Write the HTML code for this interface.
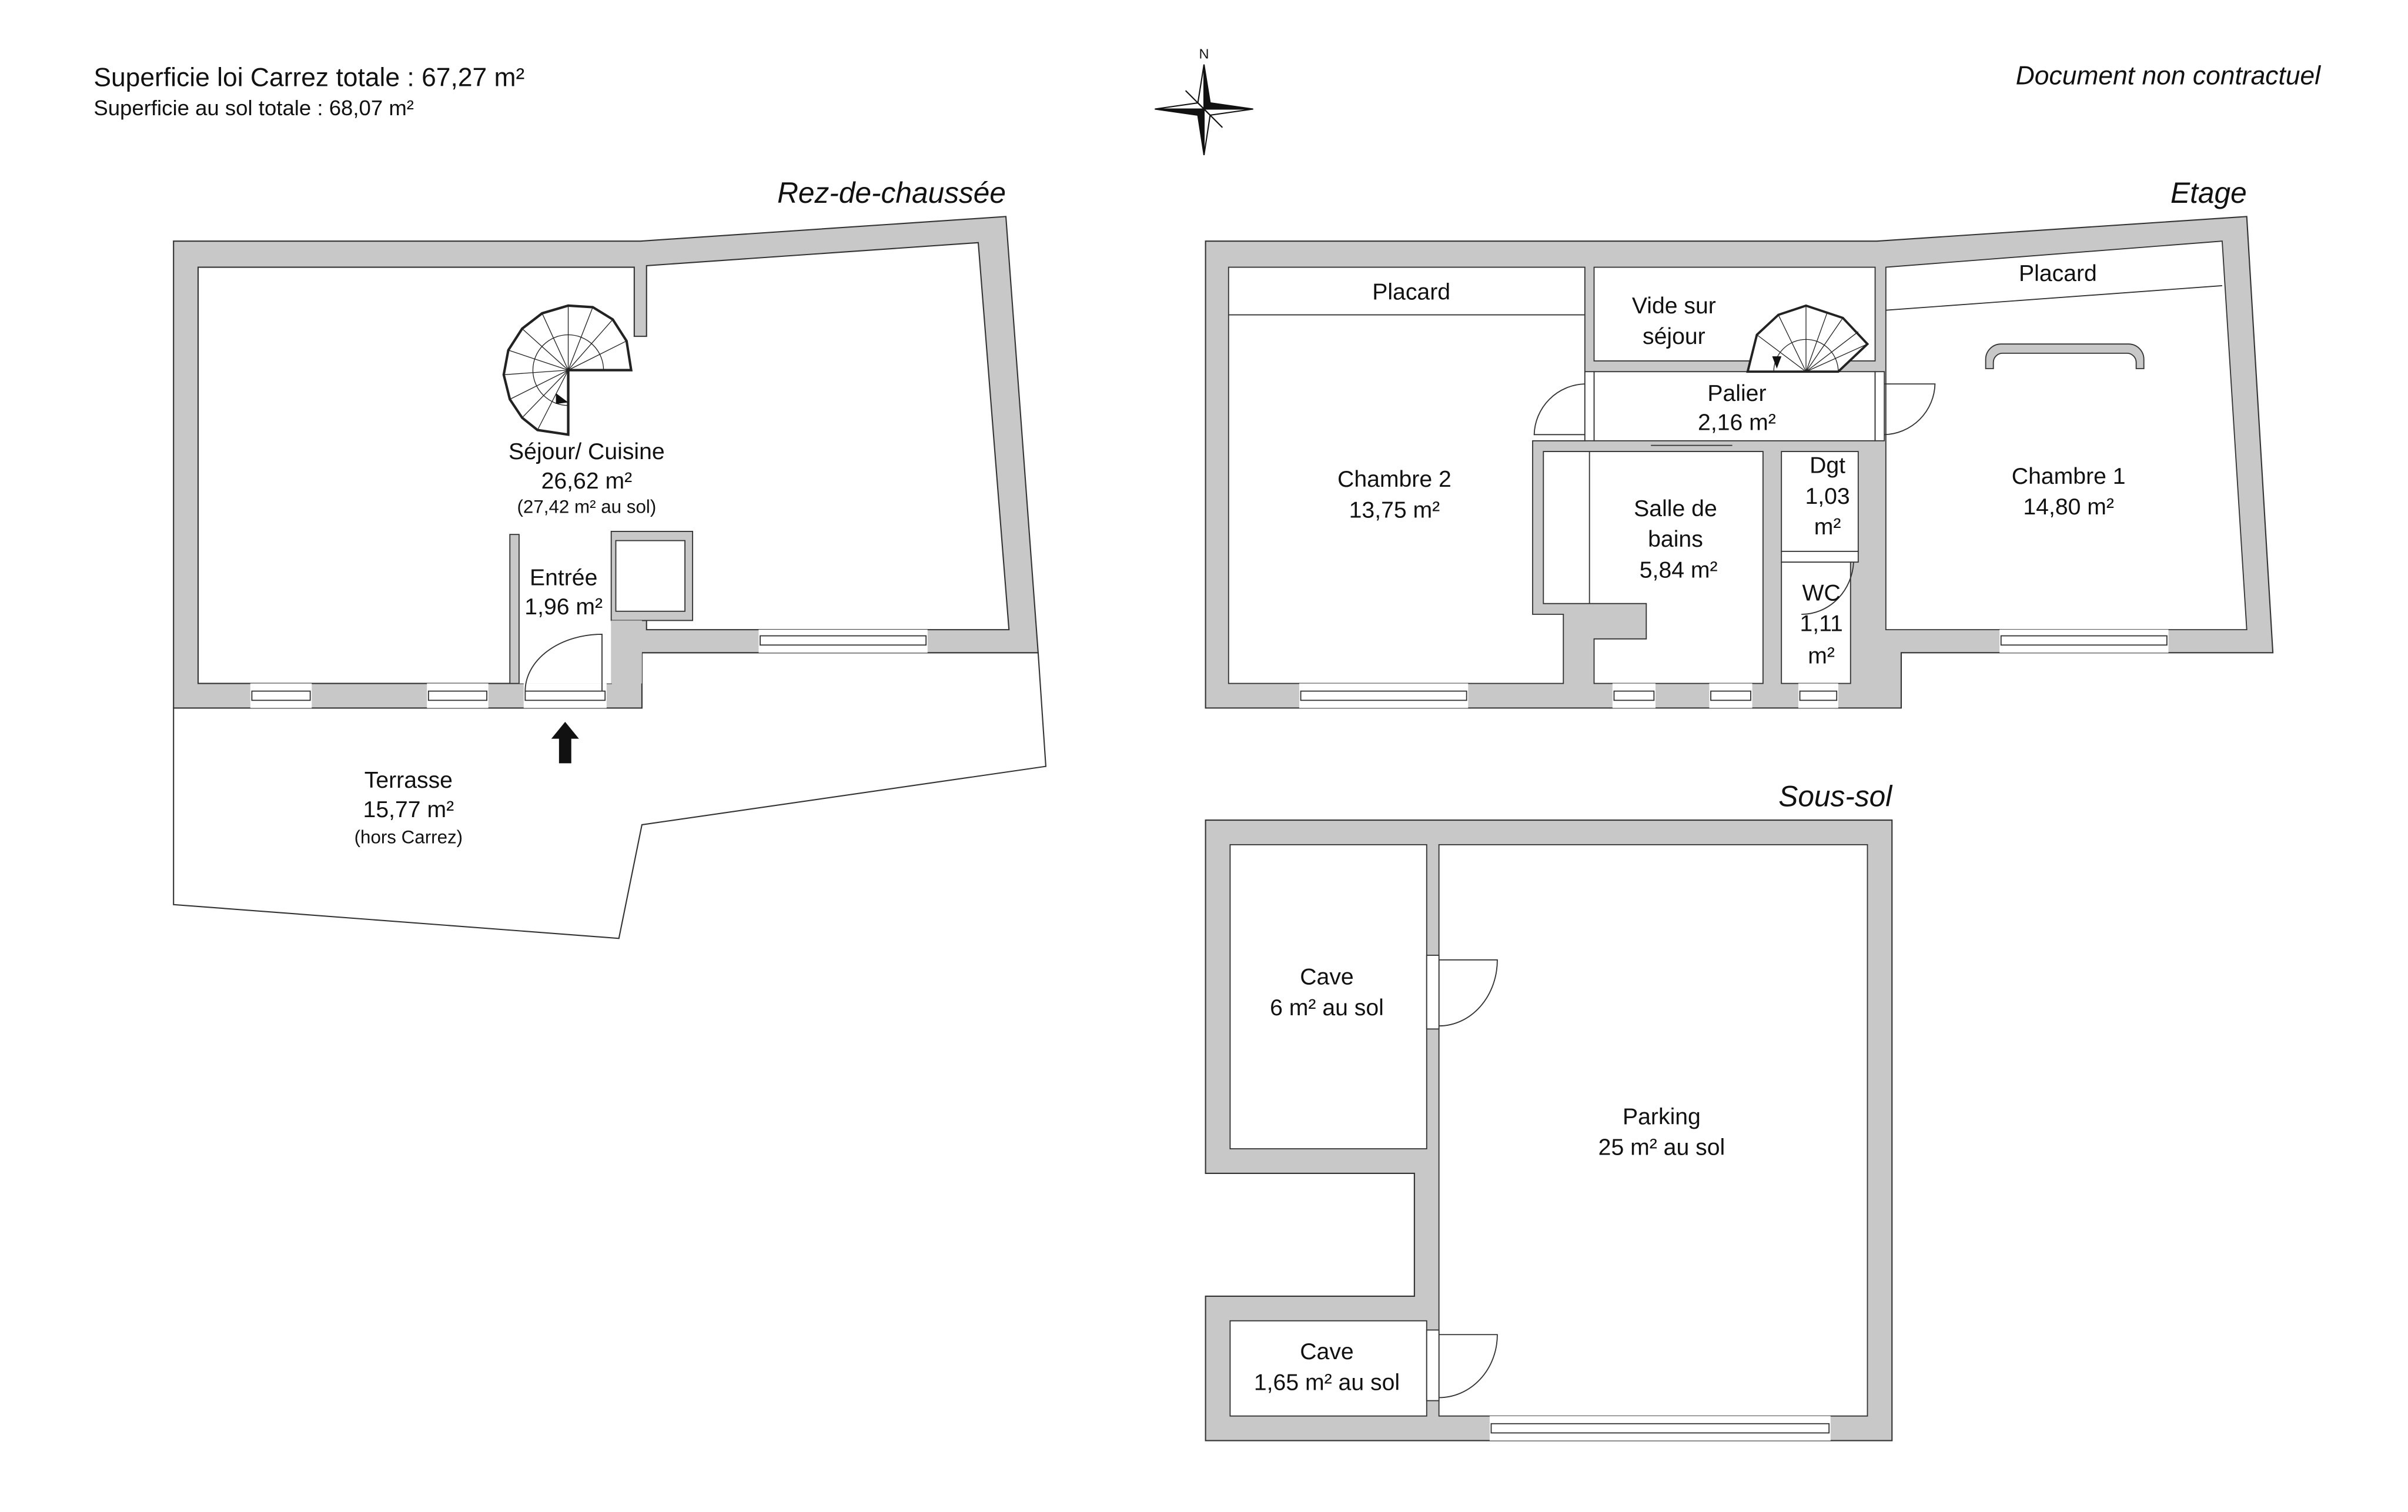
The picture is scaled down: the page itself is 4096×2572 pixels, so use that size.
<!DOCTYPE html>
<html><head><meta charset="utf-8"><style>
html,body{margin:0;padding:0;background:#fff}
svg{display:block}
text{font-family:"Liberation Sans",sans-serif;fill:#111}
</style></head><body>
<svg width="4096" height="2572" viewBox="0 0 1568 984.5" preserveAspectRatio="none">
<g font-size="15" text-anchor="middle">
<!-- header -->
<text x="61" y="56" font-size="17" text-anchor="start">Superficie loi Carrez totale :  67,27 m²</text>
<text x="61" y="75" font-size="14" text-anchor="start">Superficie au sol totale :  68,07 m²</text>
<text x="1511" y="55" font-size="17" font-style="italic" text-anchor="end">Document non contractuel</text>
<!-- compass -->
<text x="784" y="38" font-size="9">N</text>
<g stroke="#111" stroke-width="0.8">
<polygon points="784,42 788,67 784,71" fill="#111"/><polygon points="784,42 780,67 784,71" fill="#fff"/>
<polygon points="784,101 780,75 784,71" fill="#111"/><polygon points="784,101 788,75 784,71" fill="#fff"/>
<polygon points="752,71 780,67 784,71" fill="#fff"/><polygon points="752,71 780,75 784,71" fill="#111"/>
<polygon points="816,71 788,75 784,71" fill="#fff"/><polygon points="816,71 788,67 784,71" fill="#111"/>
<polygon points="772,59 784,71 778,65" fill="#111"/><polygon points="796,83 784,71 790,77" fill="#111"/>
</g>

<!-- ========== RDC ========== -->
<text x="655" y="132" font-size="19" font-style="italic" text-anchor="end">Rez-de-chaussée</text>
<polygon points="113,461 113,589 403,611 418,537 681,499 676,425 418,425 418,461" fill="#fff" stroke="#333" stroke-width="0.8"/>
<polygon points="113,157 417,157 655,141 676,425 418,425 418,461 113,461" fill="#c8c8c8" stroke="#333" stroke-width="0.8"/>
<polygon points="129,174 413,174 413,219 421,219 421,173 637,158 657,410 421,410 421,404 398,404 398,445 129,445" fill="#fff" stroke="#333" stroke-width="0.8"/>
<rect x="338" y="346" width="60" height="99" fill="#fff"/>
<rect x="332" y="348" width="6" height="97" fill="#c8c8c8" stroke="#333" stroke-width="0.7"/>
<polygon points="398,346 451,346 451,404 398,404" fill="#c8c8c8" stroke="#333" stroke-width="0.7"/>
<rect x="401" y="352" width="45" height="46" fill="#fff" stroke="#333" stroke-width="0.7"/>
<rect x="398" y="404" width="20" height="41" fill="#c8c8c8"/>
<!-- windows RDC -->
<g fill="#fff" stroke="#333" stroke-width="0.7">
<rect x="163" y="445" width="40" height="16" stroke="none"/><rect x="164" y="450" width="38" height="6"/>
<rect x="278" y="445" width="40" height="16" stroke="none"/><rect x="279" y="450" width="38" height="6"/>
<rect x="341" y="445" width="54" height="16" stroke="none"/><rect x="342" y="450" width="52" height="6"/>
<rect x="494" y="410" width="110" height="15" stroke="none"/><rect x="495" y="414" width="108" height="6"/>
</g>
<path d="M392,450 L392,413 A50,37 0 0 0 342,450" fill="none" stroke="#333" stroke-width="0.7"/>
<polygon points="368,470 377,481 372,481 372,497 364,497 364,481 359,481" fill="#111"/>
<!-- spiral stair RDC -->
<g fill="none" stroke="#222">
<path d="M370,241 L411,241 L408,222 L399,208 L386,200 L370,199 L353,204 L340,214 L331,228 L328,244 L332,260 L340,272 L350,280 L370,283 Z" stroke-width="1.6" fill="#fff"/>
<g stroke-width="0.5">
<line x1="370" y1="241" x2="408" y2="222"/><line x1="370" y1="241" x2="399" y2="208"/><line x1="370" y1="241" x2="386" y2="200"/>
<line x1="370" y1="241" x2="370" y2="199"/><line x1="370" y1="241" x2="353" y2="204"/><line x1="370" y1="241" x2="340" y2="214"/>
<line x1="370" y1="241" x2="331" y2="228"/><line x1="370" y1="241" x2="328" y2="244"/><line x1="370" y1="241" x2="332" y2="260"/>
<line x1="370" y1="241" x2="340" y2="272"/><line x1="370" y1="241" x2="350" y2="280"/>
<path d="M393,241 A23,23 0 1 0 370,264"/>
</g>
<line x1="370" y1="241" x2="370" y2="283" stroke-width="1.6"/>
</g>
<polygon points="362,256 370,262 362,263" fill="#111"/>
<text x="382" y="299">Séjour/ Cuisine</text>
<text x="382" y="318">26,62 m²</text>
<text x="382" y="334" font-size="12">(27,42 m² au sol)</text>
<text x="367" y="381">Entrée</text>
<text x="367" y="400">1,96 m²</text>
<text x="266" y="513">Terrasse</text>
<text x="266" y="532">15,77 m²</text>
<text x="266" y="549" font-size="12">(hors Carrez)</text>

<!-- ========== ETAGE ========== -->
<text x="1463" y="132" font-size="19" font-style="italic" text-anchor="end">Etage</text>
<polygon points="785,157 1222,157 1463,141 1480,425 1238,425 1238,461 785,461" fill="#c8c8c8" stroke="#333" stroke-width="0.8"/>
<g fill="#fff" stroke="#333" stroke-width="0.7">
<polygon points="800,174 1032,174 1032,287 998,287 998,400 1018,400 1018,445 800,445"/>
<rect x="1038" y="174" width="183" height="61"/>
<rect x="1038" y="242" width="183" height="45"/>
<polygon points="1005,294 1148,294 1148,445 1038,445 1038,416 1072,416 1072,393 1005,393"/>
<rect x="1160" y="294" width="50" height="65"/>
<rect x="1160" y="366" width="45" height="79"/>
<polygon points="1228,174 1447,157 1463,410 1228,410"/>
</g>
<g fill="none" stroke="#333" stroke-width="0.7">
<line x1="800" y1="205" x2="1032" y2="205"/>
<line x1="1228" y1="202" x2="1447" y2="186"/>
<line x1="1035" y1="294" x2="1035" y2="393"/>
<rect x="1032" y="242" width="6" height="45" fill="#fff"/>
<rect x="1221" y="242" width="6" height="45" fill="#fff"/>
<path d="M1032,250 A34,34 0 0 0 999,283 L1032,283"/>
<path d="M1227,250 L1260,250 A34,34 0 0 1 1227,283"/>
<rect x="1160" y="359" width="50" height="7" fill="#fff"/>
<path d="M1207,366 A34,36 0 0 1 1173,400"/>
<line x1="1075" y1="290" x2="1128" y2="290"/>
<path d="M1293,240 L1293,234 A10,10 0 0 1 1303,224 L1386,224 A10,10 0 0 1 1396,234 L1396,240 L1391,240 L1391,236 A6,6 0 0 0 1385,230 L1304,230 A6,6 0 0 0 1298,236 L1298,240 Z" fill="#c8c8c8"/>
</g>
<!-- windows etage -->
<g fill="#fff" stroke="#333" stroke-width="0.7">
<rect x="846" y="445" width="110" height="16" stroke="none"/><rect x="847" y="450" width="108" height="6"/>
<rect x="1050" y="445" width="28" height="16" stroke="none"/><rect x="1051" y="450" width="26" height="6"/>
<rect x="1113" y="445" width="28" height="16" stroke="none"/><rect x="1114" y="450" width="26" height="6"/>
<rect x="1171" y="445" width="26" height="16" stroke="none"/><rect x="1172" y="450" width="24" height="6"/>
<rect x="1302" y="410" width="110" height="15" stroke="none"/><rect x="1303" y="414" width="108" height="6"/>
</g>
<!-- stair etage -->
<g fill="none" stroke="#222">
<path d="M1138,242 L1144,218 L1158,205 L1176,199 L1200,207 L1216,224 L1197,242 Z" stroke-width="1.5" fill="#fff"/>
<g stroke-width="0.5">
<line x1="1176" y1="242" x2="1144" y2="218"/><line x1="1176" y1="242" x2="1158" y2="205"/><line x1="1176" y1="242" x2="1176" y2="199"/>
<line x1="1176" y1="242" x2="1190" y2="203"/><line x1="1176" y1="242" x2="1200" y2="207"/><line x1="1176" y1="242" x2="1210" y2="216"/>
<line x1="1176" y1="242" x2="1216" y2="224"/>
<path d="M1155,242 A21,21 0 0 1 1197,242"/>
</g>
</g>
<polygon points="1154,232 1160,232 1157,240" fill="#111"/>
<text x="919" y="195">Placard</text>
<text x="1340" y="183">Placard</text>
<text x="1090" y="204">Vide sur</text>
<text x="1090" y="224">séjour</text>
<text x="1131" y="261">Palier</text>
<text x="1131" y="280">2,16 m²</text>
<text x="908" y="317">Chambre 2</text>
<text x="908" y="337">13,75 m²</text>
<text x="1091" y="336">Salle de</text>
<text x="1091" y="356">bains</text>
<text x="1093" y="376">5,84 m²</text>
<text x="1190" y="308">Dgt</text>
<text x="1190" y="328">1,03</text>
<text x="1190" y="348">m²</text>
<text x="1186" y="391">WC</text>
<text x="1186" y="411">1,11</text>
<text x="1186" y="432">m²</text>
<text x="1347" y="315">Chambre 1</text>
<text x="1347" y="335">14,80 m²</text>

<!-- ========== SOUS-SOL ========== -->
<text x="1232" y="525" font-size="19" font-style="italic" text-anchor="end">Sous-sol</text>
<polygon points="785,534 1232,534 1232,938 785,938 785,844 921,844 921,764 785,764" fill="#c8c8c8" stroke="#333" stroke-width="0.8"/>
<g fill="#fff" stroke="#333" stroke-width="0.7">
<rect x="801" y="550" width="128" height="198"/>
<rect x="937" y="550" width="279" height="372"/>
<rect x="801" y="860" width="128" height="62"/>
<rect x="929" y="622" width="8" height="48"/>
<rect x="929" y="866" width="8" height="46"/>
<path d="M937,625 L975,625 A38,43 0 0 1 937,668" fill="none"/>
<path d="M937,869 L975,869 A38,41 0 0 1 937,910" fill="none"/>
<rect x="970" y="922" width="222" height="16" stroke="none"/><rect x="971" y="927" width="220" height="6"/>
</g>
<text x="864" y="641">Cave</text>
<text x="864" y="661">6 m² au sol</text>
<text x="1082" y="732">Parking</text>
<text x="1082" y="752">25 m² au sol</text>
<text x="864" y="885">Cave</text>
<text x="864" y="905">1,65 m² au sol</text>
</g>
</svg>
</body></html>
